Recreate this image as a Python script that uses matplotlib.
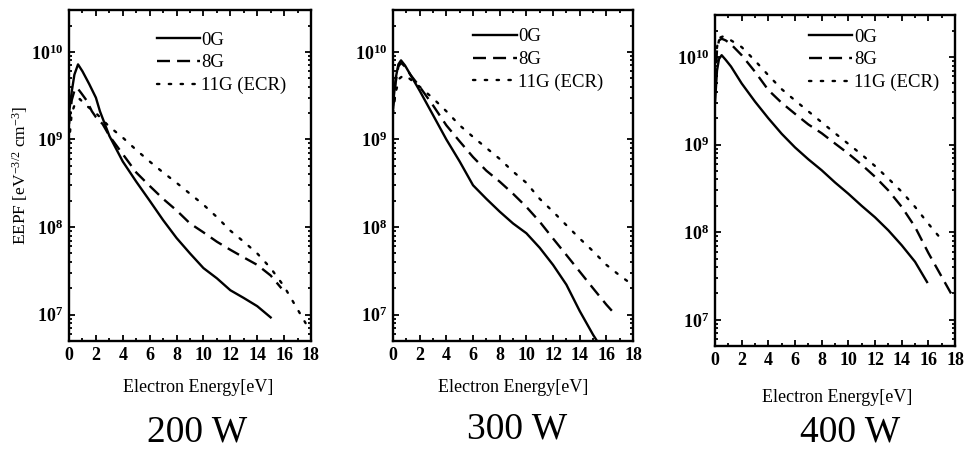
import numpy as np
import matplotlib
matplotlib.use("Agg")
import matplotlib.pyplot as plt
from matplotlib.ticker import MultipleLocator, LogLocator, FuncFormatter, NullFormatter

plt.rcParams['font.family'] = ['Liberation Serif', 'DejaVu Serif']
plt.rcParams['mathtext.fontset'] = 'custom'
plt.rcParams['mathtext.rm'] = 'Liberation Serif'
plt.rcParams['mathtext.it'] = 'Liberation Serif:italic'
plt.rcParams['mathtext.bf'] = 'Liberation Serif:bold'

# ---- data (energy in eV, EEPF in eV^-3/2 cm^-3) ----
# 200 W
e200_0g = [0, 0.2, 0.4, 0.67, 1.0, 1.5, 2.0, 2.3, 3, 4, 5, 6, 7, 8, 9, 10, 11, 12, 13, 14, 15]
f200_0g = [2.0e9, 3.5e9, 5.5e9, 7.2e9, 6.0e9, 4.3e9, 3.0e9, 2.1e9, 1.1e9, 5.6e8, 3.3e8, 2.0e8,
           1.2e8, 7.5e7, 5.0e7, 3.4e7, 2.6e7, 1.9e7, 1.55e7, 1.25e7, 9.3e6]
e200_8g = [0, 0.2, 0.4, 0.6, 0.9, 1.3, 1.7, 2.0, 2.5, 3, 4, 5, 6, 7, 8, 9, 10, 11, 12, 13, 14, 15, 15.8]
f200_8g = [1.5e9, 2.8e9, 3.6e9, 3.9e9, 3.4e9, 2.8e9, 2.1e9, 1.8e9, 1.5e9, 1.1e9, 6.8e8, 4.2e8,
           2.95e8, 2.1e8, 1.55e8, 1.1e8, 8.7e7, 6.8e7, 5.5e7, 4.5e7, 3.7e7, 2.8e7, 2.0e7]
e200_11g = [0, 0.2, 0.5, 0.8, 1.2, 2, 3, 4, 5, 6, 7, 8, 9, 10, 11, 12, 13, 14, 15, 16, 17, 17.6]
f200_11g = [9e8, 2.0e9, 2.7e9, 2.9e9, 2.5e9, 2.0e9, 1.4e9, 1.05e9, 7.6e8, 5.6e8, 4.2e8, 3.2e8,
            2.4e8, 1.8e8, 1.3e8, 9.1e7, 6.8e7, 5.0e7, 3.4e7, 2.1e7, 1.15e7, 8e6]

# 300 W
e300_0g = [0, 0.2, 0.4, 0.6, 0.9, 1.3, 2, 3, 4, 5, 6, 7, 8, 9, 10, 11, 12, 13, 14, 15, 15.3]
f300_0g = [2.5e9, 5e9, 7.2e9, 8.0e9, 7.0e9, 5.5e9, 3.6e9, 1.9e9, 1.0e9, 5.6e8, 3.0e8, 2.1e8,
           1.5e8, 1.1e8, 8.5e7, 5.8e7, 3.7e7, 2.2e7, 1.1e7, 5.9e6, 5.0e6]
e300_8g = [0, 0.2, 0.4, 0.6, 0.9, 1.3, 2, 3, 4, 5, 6, 7, 8, 9, 10, 11, 12, 13, 14, 15, 16, 16.5]
f300_8g = [2.2e9, 4.5e9, 6.8e9, 7.5e9, 6.8e9, 5.5e9, 4.0e9, 2.45e9, 1.45e9, 9.5e8, 6.3e8, 4.4e8,
           3.3e8, 2.4e8, 1.7e8, 1.15e8, 7.4e7, 4.8e7, 3.1e7, 2.0e7, 1.3e7, 1.07e7]
e300_11g = [0, 0.2, 0.5, 0.8, 1.2, 2, 3, 4, 5, 6, 7, 8, 9, 10, 11, 12, 13, 14, 15, 16, 17, 17.6]
f300_11g = [2.0e9, 3.5e9, 5.0e9, 5.4e9, 5.0e9, 4.0e9, 2.95e9, 2.1e9, 1.45e9, 1.07e9, 8.0e8, 6.0e8,
            4.3e8, 3.2e8, 2.1e8, 1.5e8, 1.05e8, 7.4e7, 5.3e7, 3.7e7, 2.8e7, 2.4e7]

# 400 W
e400_0g = [0, 0.15, 0.3, 0.5, 0.8, 1.2, 2, 3, 4, 5, 6, 7, 8, 9, 10, 11, 12, 13, 14, 15, 15.9]
f400_0g = [3e9, 7e9, 9.5e9, 1.05e10, 9.3e9, 7.8e9, 5.0e9, 3.1e9, 2.0e9, 1.33e9, 9.3e8, 6.8e8,
           5.1e8, 3.7e8, 2.75e8, 2.0e8, 1.48e8, 1.05e8, 7.1e7, 4.6e7, 2.7e7]
e400_8g = [0, 0.15, 0.3, 0.5, 0.8, 1.2, 2, 3, 4, 5, 6, 7, 8, 9, 10, 11, 12, 13, 14, 15, 16, 17, 17.7]
f400_8g = [5e9, 1.2e10, 1.55e10, 1.62e10, 1.55e10, 1.4e10, 1.05e10, 6.8e9, 4.2e9, 3.0e9, 2.25e9,
           1.7e9, 1.35e9, 1.03e9, 7.9e8, 5.9e8, 4.3e8, 3.0e8, 1.95e8, 1.15e8, 5.8e7, 3.1e7, 2.0e7]
e400_11g = [0, 0.15, 0.3, 0.6, 1.0, 2, 3, 4, 5, 6, 7, 8, 9, 10, 11, 12, 13, 14, 15, 16, 17]
f400_11g = [5e9, 1.3e10, 1.65e10, 1.72e10, 1.62e10, 1.3e10, 9.1e9, 6.2e9, 4.3e9, 3.2e9, 2.4e9,
            1.8e9, 1.35e9, 1.02e9, 7.7e8, 5.7e8, 4.1e8, 2.9e8, 1.95e8, 1.25e8, 8.2e7]

labels = ["0G", "8G", "11G (ECR)"]
powers = ["200 W", "300 W", "400 W"]

panels = [
    [(e200_0g, f200_0g), (e200_8g, f200_8g), (e200_11g, f200_11g)],
    [(e300_0g, f300_0g), (e300_8g, f300_8g), (e300_11g, f300_11g)],
    [(e400_0g, f400_0g), (e400_8g, f400_8g), (e400_11g, f400_11g)],
]

styles = ['-', (0, (5.5, 3)), (0, (1, 4))]

# axes boxes in figure fractions [left, bottom, width, height]
boxes = [[0.0716, 0.2405, 0.251, 0.737],
         [0.4077, 0.2405, 0.249, 0.737],
         [0.7417, 0.2290, 0.249, 0.737]]
legend_anchor = [(0.362, 0.935), (0.335, 0.945), (0.393, 0.96)]
xlabel_xy = [(198, 388), (513, 387), (837, 398)]   # pixels from top-left
title_xy = [(197, 432), (517, 429), (850, 432)]

W, H = 964, 449
fig = plt.figure(figsize=(W / 100, H / 100), dpi=100)

for i, (box, data) in enumerate(zip(boxes, panels)):
    ax = fig.add_axes(box)
    for (e, f), ls, lab in zip(data, styles, labels):
        ax.plot(e, f, color='black', linestyle=ls, lw=1.7, label=lab,
                dash_capstyle='round' if ls == styles[2] else 'butt')
    ax.set_yscale('log')
    ax.set_xlim(0, 18)
    ax.set_ylim(5e6, 3e10)
    ax.xaxis.set_major_locator(MultipleLocator(2))
    ax.xaxis.set_minor_locator(MultipleLocator(1))
    ax.yaxis.set_major_locator(LogLocator(base=10))
    ax.yaxis.set_minor_locator(LogLocator(base=10, subs=np.arange(2, 10)))
    ax.yaxis.set_minor_formatter(NullFormatter())
    ax.yaxis.set_major_formatter(FuncFormatter(lambda v, p: r'$\mathbf{10^{%d}}$' % round(np.log10(v))))
    ax.tick_params(which='both', direction='in', top=True, right=True, width=1.3)
    ax.tick_params(which='major', length=4.5, labelsize=13, pad=4)
    ax.tick_params(which='minor', length=2.5)
    for lbl in ax.get_xticklabels():
        lbl.set_fontweight('bold')
    for sp in ax.spines.values():
        sp.set_linewidth(1.7)
    ax.legend(loc='upper left', bbox_to_anchor=legend_anchor[i], frameon=False,
              fontsize=13.5, handlelength=2.3, handletextpad=0.08, labelspacing=0.3,
              borderaxespad=0, borderpad=0)
    if i == 0:
        ax.set_ylabel(r'EEPF [eV$^{-3/2}$ cm$^{-3}$]', fontsize=12.5, labelpad=1)
    fig.text(xlabel_xy[i][0] / W, 1 - xlabel_xy[i][1] / H, "Electron Energy[eV]",
             ha='center', va='center', fontsize=13)
    fig.text(title_xy[i][0] / W, 1 - title_xy[i][1] / H, powers[i],
             ha='center', va='center', fontsize=27)

fig.savefig('out.png', dpi=100)
